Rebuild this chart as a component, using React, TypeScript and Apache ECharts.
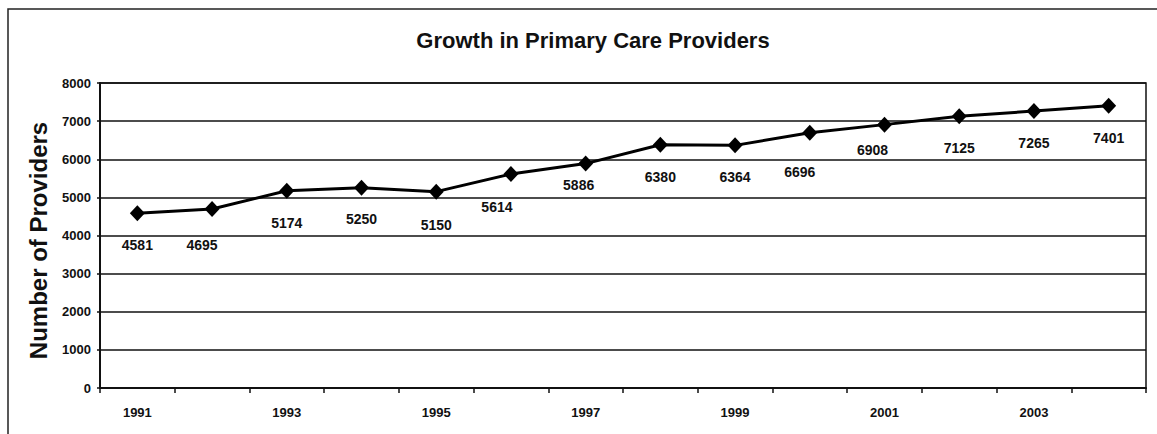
import React, { useEffect, useRef } from "react";
import * as echarts from "echarts";

const years = ["1991","1992","1993","1994","1995","1996","1997","1998","1999","2000","2001","2002","2003","2004"];
const providers = [4581, 4695, 5174, 5250, 5150, 5614, 5886, 6380, 6364, 6696, 6908, 7125, 7265, 7401];
// label nudges (dx, dy) relative to each marker, as placed in the original
const labelNudges: [number, number][] = [
  [0, 32], [-10, 36], [0, 32], [0, 31], [0, 33], [-14, 33], [-7, 21],
  [0, 32], [0, 32], [-10, 39], [-12, 25], [0, 32], [0, 32], [0, 32],
];

const FONT = "'Liberation Sans', Arial, sans-serif";

export default function App() {
  const ref = useRef<HTMLDivElement>(null);
  useEffect(() => {
    document.body.style.margin = "0";
    const chart = echarts.init(ref.current!, null, { renderer: "svg" });
    chart.setOption({
      animation: false,
      backgroundColor: "#ffffff",
      title: {
        text: "Growth in Primary Care Providers",
        left: 588,
        textAlign: "center",
        top: 24,
        textStyle: { fontFamily: FONT, fontWeight: "bold", fontSize: 22, color: "#111" },
      },
      graphic: [
        {
          type: "rect",
          shape: { x: 8, y: 9, width: 1300, height: 600 },
          style: { fill: "none", stroke: "#222", lineWidth: 1.5 },
          silent: true,
        },
      ],
      grid: {
        left: 100,
        right: 11,
        top: 83,
        bottom: 46,
        show: true,
        borderColor: "#111",
        borderWidth: 1.5,
        backgroundColor: "transparent",
      },
      xAxis: {
        type: "category",
        data: years,
        boundaryGap: true,
        axisLine: { lineStyle: { color: "#111", width: 2 } },
        axisTick: { show: true, interval: 0, length: 5, lineStyle: { color: "#111", width: 1.5 } },
        axisLabel: {
          interval: 1,
          margin: 18,
          fontFamily: FONT,
          fontWeight: "bold",
          fontSize: 13,
          color: "#111",
        },
        splitLine: { show: false },
      },
      yAxis: {
        type: "value",
        min: 0,
        max: 8000,
        interval: 1000,
        name: "Number of Providers",
        nameLocation: "middle",
        nameGap: 50,
        nameTextStyle: {
          fontFamily: FONT,
          fontWeight: "bold",
          fontSize: 24,
          color: "#111",
          padding: [0, 10, 0, 0],
        },
        axisLine: { show: true, lineStyle: { color: "#111", width: 2 } },
        axisTick: { show: true, length: 3, lineStyle: { color: "#111", width: 1.5 } },
        axisLabel: {
          margin: 9,
          formatter: (v: number) => String(v),
          fontFamily: FONT,
          fontWeight: "bold",
          fontSize: 13,
          color: "#111",
        },
        splitLine: { show: true, lineStyle: { color: "#111", width: 1.5 } },
      },
      series: [
        {
          type: "line",
          data: providers.map((v, i) => ({
            value: v,
            label: { offset: labelNudges[i] },
          })),
          symbol: "diamond",
          symbolSize: [15, 16],
          itemStyle: { color: "#000" },
          lineStyle: { color: "#000", width: 3 },
          label: {
            show: true,
            position: "inside",
            fontFamily: FONT,
            fontWeight: "bold",
            fontSize: 14,
            color: "#111",
          },
        },
      ],
    });
    return () => chart.dispose();
  }, []);
  return <div ref={ref} style={{ width: 1157, height: 434 }} />;
}
